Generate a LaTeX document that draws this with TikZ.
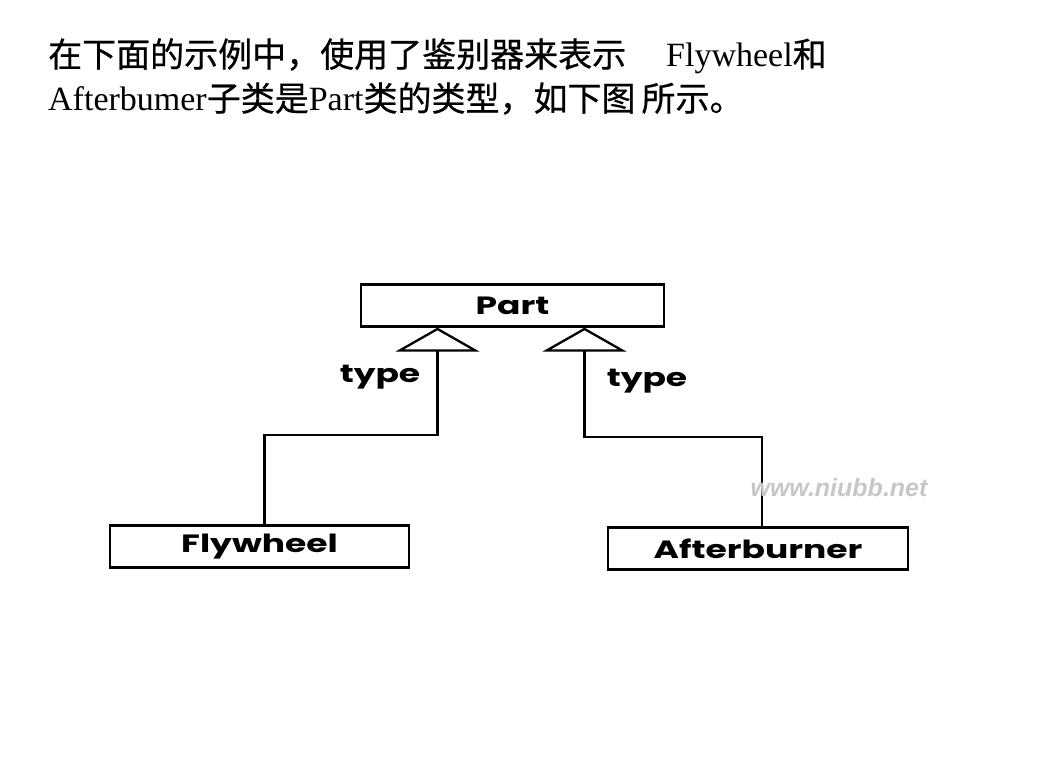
\documentclass[tikz,border=0pt]{standalone}
\usepackage{fontspec}
\setmainfont{Liberation Serif}
\newfontfamily\cjk{Noto Sans CJK SC}[FakeBold=0.6]
\newfontfamily\lblfont{Poppins}[FakeStretch=1.38]
\newfontfamily\wmfont{Liberation Sans}
\usetikzlibrary{arrows.meta}

\begin{document}
\begin{tikzpicture}[x=1pt, y=1pt,
        cls/.style = {draw, line width = 2.3pt, minimum height = 42pt, inner sep = 0pt, font = \lblfont\bfseries\fontsize{25}{27}\selectfont},
        gen/.style = {line width = 2.3pt, -{Triangle[open, length = 24pt, width = 84pt]}},
        typelbl/.style = {font = \lblfont\bfseries\fontsize{25}{27}\selectfont},
        ttl/.style = {anchor = base west, inner sep = 0pt, font = \fontsize{34}{40}\selectfont}]
        \useasboundingbox (0,0) rectangle (1037,778);

        % Title
        \node[ttl] (title1) at (48,711) {{\cjk 在下面的示例中，使用了鉴别器来表示}\hspace{40pt}Flywheel{\cjk 和}};
        \node[ttl] (title2) at (48,667) {Afterbumer{\cjk 子类是}Part{\cjk 类的类型，如下图}\hspace{6pt}{\cjk 所示。}};

        % Classes
        \node[cls, minimum width = 303pt] (part) at (512.5,472.5) {Part};
        \node[cls, minimum width = 299pt] (fly) at (259.5,231.5) {Flywheel};
        \node[cls, minimum width = 300pt] (ab) at (758,229.5) {Afterburner};

        % Generalisations
        \draw[gen] ([xshift = 5pt]fly.north) -- ++(0,89) -| ([xshift = -75pt]part.south);
        \draw[gen] ([xshift = 4pt]ab.north) -- ++(0,89) -| ([xshift = 72pt]part.south);
        \node[typelbl] (typeL) at (380,401) {type};
        \node[typelbl] (typeR) at (647,397) {type};

        % Watermark
        \node[font = \wmfont\bfseries\itshape\fontsize{25}{27}\selectfont, text = black!22] (wmark) at (839,290) {www.niubb.net};
    \end{tikzpicture}
\end{document}
